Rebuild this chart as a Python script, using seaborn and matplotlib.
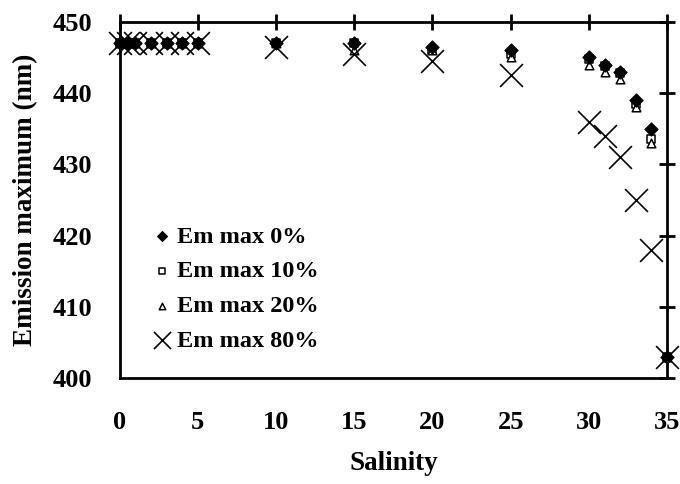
import matplotlib
matplotlib.use('Agg')
import matplotlib.pyplot as plt
import pandas as pd
import seaborn as sns

# Data
salinity = [0, 0.5, 1, 2, 3, 4, 5, 10, 15, 20, 25, 30, 31, 32, 33, 34, 35]
em_0 = [447, 447, 447, 447, 447, 447, 447, 447, 447, 446.5, 446, 445, 444, 443, 439, 435, 403]
em_10 = [447, 447, 447, 447, 447, 447, 447, 447, 447, 446, 445.5, 444.8, 443.8, 442.8, 438.5, 433.5, 403]
em_20 = [447, 447, 447, 447, 447, 447, 447, 447, 446, 446, 445, 444, 443, 442, 438, 433, 403]
em_80 = [447, 447, 447, 447, 447, 447, 447, 446.5, 445.5, 444.5, 442.5, 436, 434, 431, 425, 418, 403]

series_names = ['Em max 0%', 'Em max 10%', 'Em max 20%', 'Em max 80%']
x_ticks = [0, 5, 10, 15, 20, 25, 30, 35]
y_ticks = [400, 410, 420, 430, 440, 450]

df = pd.DataFrame({'Salinity': salinity, series_names[0]: em_0, series_names[1]: em_10,
                   series_names[2]: em_20, series_names[3]: em_80})

sns.set_theme(style='white')
plt.rcParams['font.family'] = ['Liberation Serif', 'DejaVu Serif']
plt.rcParams['font.weight'] = 'bold'
plt.rcParams['text.color'] = 'black'
plt.rcParams['axes.labelcolor'] = 'black'

fig = plt.figure(figsize=(6.8, 4.84), dpi=100)
ax = fig.add_axes([0.176, 0.219, 0.805, 0.736])

# diamonds sit on top of the open markers, crosses on top of everything
styles = [
    dict(marker='D', s=45, facecolor='black', edgecolor='black', linewidth=0.8, zorder=4),
    dict(marker='s', s=32, facecolor='white', edgecolor='black', linewidth=1.1, zorder=3),
    dict(marker='^', s=38, facecolor='white', edgecolor='black', linewidth=1.1, zorder=3),
    dict(marker='x', s=270, color='black', linewidth=1.2, zorder=5),
]
for name, st in zip(series_names, styles):
    sns.scatterplot(data=df, x='Salinity', y=name, ax=ax, label=name,
                    clip_on=False, **st)

ax.set_xlim(0, 35)
ax.set_ylim(400, 450)
ax.set_xticks(x_ticks)
ax.set_yticks(y_ticks)
ax.tick_params(axis='both', direction='inout', length=12, width=2, labelsize=19,
               top=True, right=True, colors='black')
ax.tick_params(axis='x', pad=18)
ax.tick_params(axis='y', pad=14)
for lab in ax.get_xticklabels() + ax.get_yticklabels():
    lab.set_fontweight('bold')
for sp in ax.spines.values():
    sp.set_linewidth(2)
    sp.set_color('black')
    sp.set_visible(True)

ax.set_xlabel('Salinity', fontsize=19.5, fontweight='bold', labelpad=12)
ax.set_ylabel('Emission maximum (nm)', fontsize=19.5, fontweight='bold', labelpad=10)

leg = ax.legend(loc='upper left', bbox_to_anchor=(0.038, 0.455), frameon=False,
                prop={'weight': 'bold', 'size': 17.5}, handlelength=1.0,
                handletextpad=0.1, labelspacing=0.52, markerscale=0.75,
                borderaxespad=0)

fig.savefig('out.png', dpi=100)
